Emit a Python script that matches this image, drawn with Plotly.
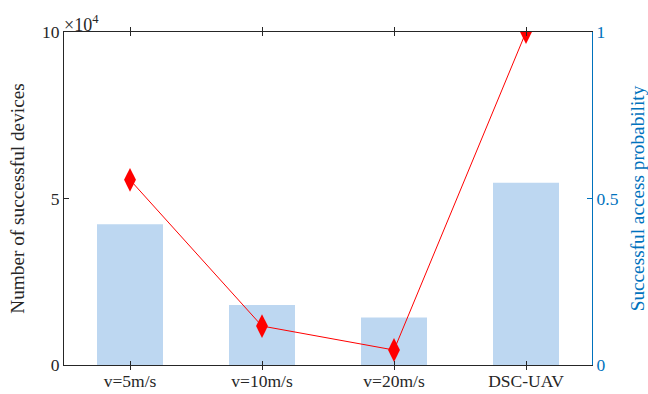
import plotly.graph_objects as go

categories = ["v=5m/s", "v=10m/s", "v=20m/s", "DSC-UAV"]
devices = [42300, 18000, 14300, 54700]
probability = [0.556, 0.117, 0.045, 1.0]
left_ticks = [0, 50000, 100000]
left_tick_text = ["0", "5", "10"]
right_ticks = [0, 0.5, 1]
right_tick_text = ["0", "0.5", "1"]

font = "Liberation Serif"
gray = "#262626"
blue = "#0072BD"
tick_size = 17.5
title_size = 19.25

fig = go.Figure()
fig.add_trace(go.Bar(x=categories, y=devices, width=0.5,
                     marker=dict(color="#BDD7F1", line=dict(width=0)),
                     yaxis="y", showlegend=False))
fig.add_trace(go.Scatter(x=categories, y=probability, yaxis="y2",
                         mode="lines+markers",
                         line=dict(color="#FF0000", width=1),
                         marker=dict(symbol="diamond-tall", size=17, color="#FF0000"),
                         showlegend=False))

fig.update_layout(
    width=648, height=394,
    margin=dict(l=64, r=56, t=32, b=29, autoexpand=False),
    plot_bgcolor="white", paper_bgcolor="white",
    font=dict(family=font, size=tick_size, color=gray),
    xaxis=dict(showgrid=False, showline=True, linecolor=gray, linewidth=1,
               mirror="allticks", ticks="inside", ticklen=4, tickcolor=gray,
               tickfont=dict(family=font, size=tick_size, color=gray), automargin=False,
               range=[-0.5, 3.5], zeroline=False),
    yaxis=dict(range=[0, 100000], tickvals=left_ticks, ticktext=left_tick_text,
               showgrid=False, showline=True, linecolor=gray, linewidth=1,
               ticks="inside", ticklen=5, tickcolor=gray, zeroline=False,
               automargin=False,
               tickfont=dict(family=font, size=tick_size, color=gray),
               title=dict(text="Number of successful devices",
                          font=dict(family=font, size=title_size, color=gray), standoff=12)),
    yaxis2=dict(range=[0, 1], tickvals=right_ticks, ticktext=right_tick_text,
                overlaying="y", side="right", showgrid=False, showline=True,
                linecolor=blue, linewidth=1, ticks="inside", ticklen=5,
                tickcolor=blue, zeroline=False, automargin=False,
                tickfont=dict(family=font, size=tick_size, color=blue),
                title=dict(text="Successful access probability",
                           font=dict(family=font, size=title_size, color=blue), standoff=15)),
    annotations=[dict(text="×10<sup>4</sup>", xref="paper", yref="paper",
                      x=0, y=1, xanchor="left", yanchor="bottom", showarrow=False,
                      font=dict(family=font, size=18, color=gray), xshift=-2, yshift=-5)],
)

fig.write_html("out.html", config={"displayModeBar": False},
               post_script="document.body.style.margin='0';document.body.style.padding='0';")
